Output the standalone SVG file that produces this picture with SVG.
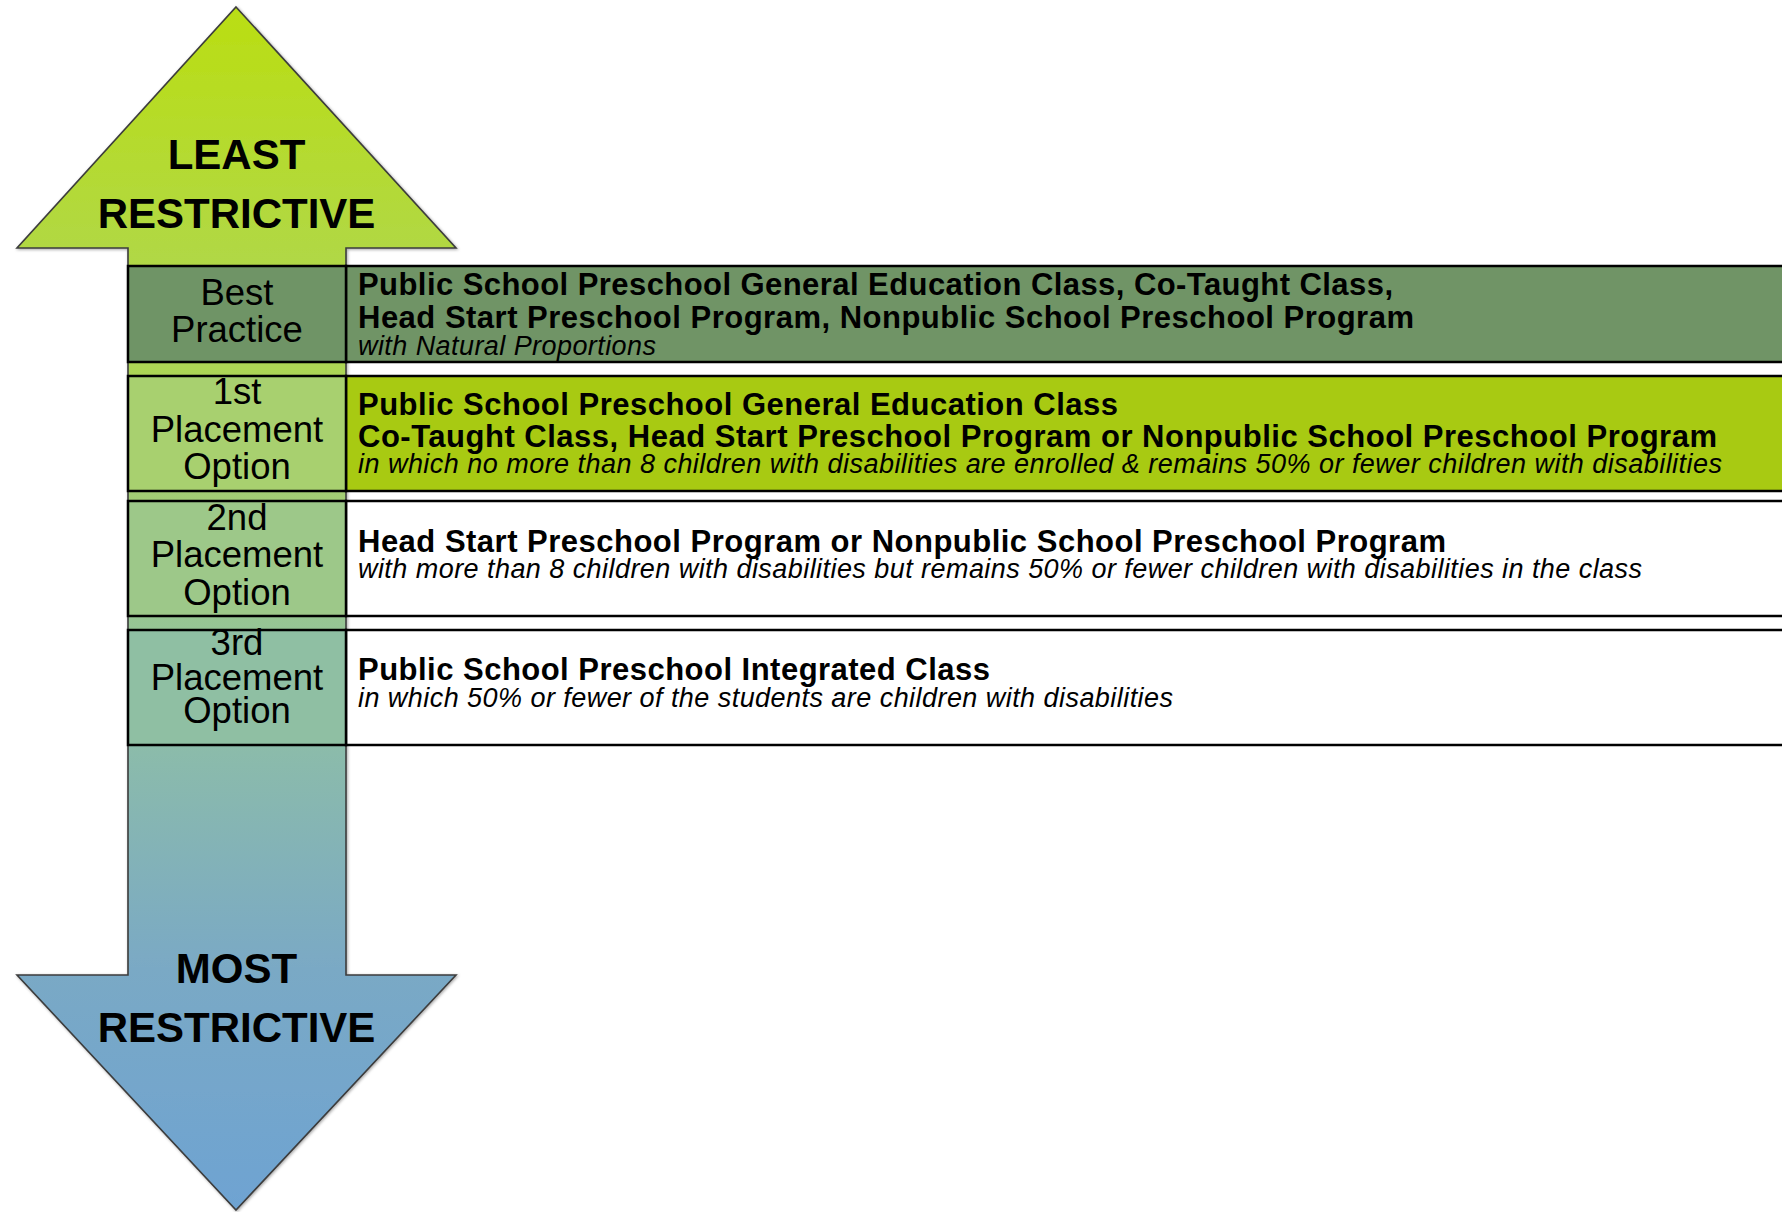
<svg xmlns="http://www.w3.org/2000/svg" width="1782" height="1212" viewBox="0 0 1782 1212">
  <defs>
    <linearGradient id="shaftGrad" gradientUnits="userSpaceOnUse" x1="0" y1="7" x2="0" y2="1210">
      <stop offset="0" stop-color="#bade12"/>
      <stop offset="0.2" stop-color="#b1d843"/>
      <stop offset="0.3" stop-color="#add655"/>
      <stop offset="0.41" stop-color="#a3cd76"/>
      <stop offset="0.52" stop-color="#95c496"/>
      <stop offset="0.62" stop-color="#8bbbab"/>
      <stop offset="0.8" stop-color="#7aa9c5"/>
      <stop offset="1" stop-color="#6ea3d2"/>
    </linearGradient>
    <filter id="soft" x="-5%" y="-5%" width="110%" height="110%">
      <feDropShadow dx="1" dy="1" stdDeviation="1.5" flood-color="#000" flood-opacity="0.35"/>
    </filter>
  </defs>
  <style>
    .row { stroke: #000; stroke-width: 2.5; }
    .cell { stroke: #000; stroke-width: 2.5; }
    .lbl { font-family: "Liberation Sans", Arial, sans-serif; font-size: 36.5px; fill: #000; text-anchor: middle; }
    .big { font-family: "Liberation Sans", Arial, sans-serif; font-size: 42px; font-weight: bold; fill: #000; text-anchor: middle; }
    .b { font-family: "Liberation Sans", Arial, sans-serif; font-size: 31px; font-weight: bold; fill: #000; }
    .i { font-family: "Liberation Sans", Arial, sans-serif; font-size: 27px; font-style: italic; fill: #000; }
  </style>

  <g id="scale-arrow">
    <polygon points="236,7 456,248 346,248 346,975 456,975 236,1210 17,975 128,975 128,248 17,248" fill="url(#shaftGrad)" stroke="#3c3c3c" stroke-width="1.6" stroke-linejoin="miter" filter="url(#soft)"/>
    <text class="big" x="236.5" y="169">LEAST</text>
    <text class="big" x="236.5" y="228">RESTRICTIVE</text>
    <text class="big" x="236.5" y="983">MOST</text>
    <text class="big" x="236.5" y="1042">RESTRICTIVE</text>
  </g>

  <g id="best-practice">
    <rect class="row" x="346" y="266" width="1450" height="96" fill="#709466"/>
    <rect class="cell" x="128" y="266" width="218" height="96" fill="#6f9466"/>
    <text class="lbl" x="237" y="305">Best</text>
    <text class="lbl" x="237" y="342">Practice</text>
    <text class="b" x="358" y="294.5" textLength="1035">Public School Preschool General Education Class, Co-Taught Class,</text>
    <text class="b" x="358" y="327.5" textLength="1056">Head Start Preschool Program, Nonpublic School Preschool Program</text>
    <text class="i" x="358" y="355" textLength="298">with Natural Proportions</text>
  </g>

  <g id="placement-1">
    <rect class="row" x="346" y="376" width="1450" height="115" fill="#a8ca12"/>
    <rect class="cell" x="128" y="376" width="218" height="115" fill="#a8d06f"/>
    <text class="lbl" x="237" y="404">1st</text>
    <text class="lbl" x="237" y="441.5">Placement</text>
    <text class="lbl" x="237" y="479">Option</text>
    <text class="b" x="358" y="414.5" textLength="760">Public School Preschool General Education Class</text>
    <text class="b" x="358" y="446.5" textLength="1359">Co-Taught Class, Head Start Preschool Program or Nonpublic School Preschool Program</text>
    <text class="i" x="358" y="473" textLength="1364">in which no more than 8 children with disabilities are enrolled &amp; remains 50% or fewer children with disabilities</text>
  </g>

  <g id="placement-2">
    <rect class="row" x="346" y="501" width="1450" height="115" fill="#ffffff"/>
    <rect class="cell" x="128" y="501" width="218" height="115" fill="#9dc889"/>
    <text class="lbl" x="237" y="530">2nd</text>
    <text class="lbl" x="237" y="567">Placement</text>
    <text class="lbl" x="237" y="605">Option</text>
    <text class="b" x="358" y="551.5" textLength="1088">Head Start Preschool Program or Nonpublic School Preschool Program</text>
    <text class="i" x="358" y="577.5" textLength="1284">with more than 8 children with disabilities but remains 50% or fewer children with disabilities in the class</text>
  </g>

  <g id="placement-3">
    <rect class="row" x="346" y="630" width="1450" height="115" fill="#ffffff"/>
    <rect class="cell" x="128" y="630" width="218" height="115" fill="#8fbfa3"/>
    <text class="lbl" x="237" y="655">3rd</text>
    <text class="lbl" x="237" y="690">Placement</text>
    <text class="lbl" x="237" y="723">Option</text>
    <text class="b" x="358" y="680" textLength="632">Public School Preschool Integrated Class</text>
    <text class="i" x="358" y="706.5" textLength="815">in which 50% or fewer of the students are children with disabilities</text>
  </g>
</svg>
